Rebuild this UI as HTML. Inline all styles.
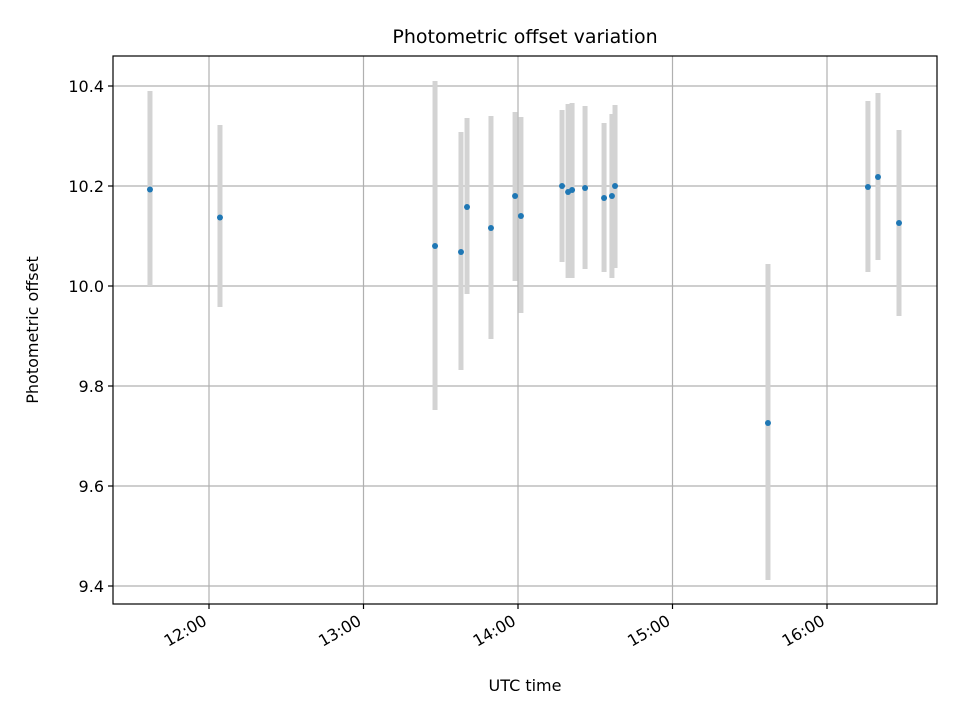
<!DOCTYPE html>
<html><head><meta charset="utf-8"><style>
body{margin:0;background:#fff;}
svg{display:block;font-family:"DejaVu Sans","Liberation Sans",sans-serif;}
</style></head><body>
<svg id="chart" width="960" height="720" viewBox="0 0 960 720"></svg>
<script>
const times=[11.618,12.071,13.463,13.631,13.670,13.825,13.981,14.019,14.285,14.324,14.350,14.434,14.557,14.608,14.628,15.618,16.265,16.330,16.466];
const values=[10.193,10.137,10.080,10.068,10.158,10.116,10.180,10.140,10.200,10.188,10.192,10.196,10.176,10.180,10.200,9.726,10.198,10.218,10.126];
const errLow=[10.000,9.958,9.752,9.832,9.984,9.894,10.010,9.946,10.048,10.016,10.016,10.034,10.028,10.016,10.036,9.412,10.028,10.052,9.940];
const errHigh=[10.390,10.322,10.410,10.308,10.336,10.340,10.348,10.338,10.352,10.364,10.366,10.360,10.326,10.344,10.362,10.044,10.370,10.386,10.312];
const yTicks=[9.4,9.6,9.8,10.0,10.2,10.4];
const xTicks=[12,13,14,15,16];
const xTickLabels=["12:00","13:00","14:00","15:00","16:00"];

const L=113,R=937,T=56,B=604;
const xs=h=>209+(h-12)*154.5;
const ys=v=>286-(v-10)*500;
const NS="http://www.w3.org/2000/svg";
const svg=document.getElementById('chart');
function mk(tag,attrs,parent){const e=document.createElementNS(NS,tag);for(const k in attrs)e.setAttribute(k,attrs[k]);(parent||svg).appendChild(e);return e;}

const grid=mk('g',{});


yTicks.forEach(v=>{const l=mk('line',{x1:L,x2:R,y1:ys(v),y2:ys(v),stroke:'#b0b0b0','stroke-width':1.2},grid);

});
xTicks.forEach(h=>{const l=mk('line',{x1:xs(h),x2:xs(h),y1:T,y2:B,stroke:'#b0b0b0','stroke-width':1.2},grid);

});

const eg=mk('g',{});


times.forEach((t,i)=>{const l=mk('line',{x1:xs(t),x2:xs(t),y1:ys(errHigh[i]),y2:ys(errLow[i]),stroke:'#d3d3d3','stroke-width':5},eg);

});
const pg=mk('g',{});


times.forEach((t,i)=>{const c=mk('circle',{cx:xs(t),cy:ys(values[i]),r:3,fill:'#1f77b4'},pg);

});

const frame=mk('rect',{x:L,y:T,width:R-L,height:B-T,fill:'none',stroke:'#000','stroke-width':1.2});



yTicks.forEach(v=>{mk('line',{x1:L-5,x2:L,y1:ys(v),y2:ys(v),stroke:'#000','stroke-width':1.2});
const tx=mk('text',{x:L-9,y:ys(v)+6,'text-anchor':'end','font-size':16});tx.textContent=v.toFixed(1);

});
xTicks.forEach((h,i)=>{const x=xs(h);mk('line',{x1:x,x2:x,y1:B,y2:B+5,stroke:'#000','stroke-width':1.2});
const ax=x-1, ay=B+20;
const tx=mk('text',{x:ax,y:ay,'text-anchor':'end','font-size':16,transform:`rotate(-30 ${ax} ${ay})`});tx.textContent=xTickLabels[i];

});

const title=mk('text',{x:(L+R)/2,y:43,'text-anchor':'middle','font-size':19});title.textContent='Photometric offset variation';


const xt=mk('text',{x:(L+R)/2,y:691,'text-anchor':'middle','font-size':16});xt.textContent='UTC time';


const yt=mk('text',{x:38,y:330,'text-anchor':'middle','font-size':16,transform:'rotate(-90 38 330)'});yt.textContent='Photometric offset';


</script>
</body></html>
